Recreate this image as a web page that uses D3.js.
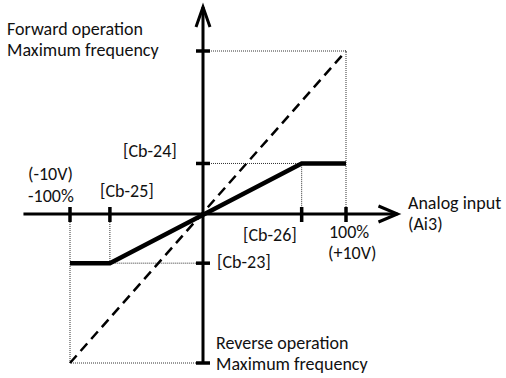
<!DOCTYPE html>
<html>
<head>
<meta charset="utf-8">
<script src="https://cdn.jsdelivr.net/npm/d3@7"></script>
<style>
  body { margin: 0; background: #fff; }
  text { font-family: Carlito, Calibri, Lato, sans-serif; font-size: 18px; fill: #111; }
</style>
</head>
<body>
<div id="chart"></div>
<script>
// analog input (%) vs output frequency (% of max)
var inputTicks = [-100, -70, 69, 100];          // -100%, [Cb-25], [Cb-26], 100%
var outputTicks = [100, 31, -33, -100];         // fwd max, [Cb-24], [Cb-23], rev max
var gainInput = [-100, -70, 69, 100];
var gainOutput = [-33, -33, 31, 31];
var diagInput = [-100, 100];
var diagOutput = [-100, 100];
var xAxisExtent = [-135, 136];
var yAxisExtent = [-100, 127];

var labelTexts = ["Forward operation", "Maximum frequency", "[Cb-24]", "(-10V)", "-100%",
    "[Cb-25]", "[Cb-26]", "100%", "(+10V)", "[Cb-23]", "Analog input", "(Ai3)",
    "Reverse operation", "Maximum frequency"];

var width = 506, height = 378;

var svg = d3.select("#chart").append("svg")
    .attr("width", width)
    .attr("height", height);

var x = d3.scaleLinear().domain([-100, 0, 100]).range([70, 203, 346]);
var y = d3.scaleLinear().domain([-100, 0, 100]).range([363, 214, 51]);

var line = d3.line()
    .x(function(d) { return x(d[0]); })
    .y(function(d) { return y(d[1]); });

// dotted guide lines
var guides = [
    [[0, outputTicks[0]], [inputTicks[3], outputTicks[0]], [inputTicks[3], 0]],
    [[0, outputTicks[1]], [inputTicks[2], outputTicks[1]], [inputTicks[2], 0]],
    [[inputTicks[1], 0], [inputTicks[1], outputTicks[2]], [0, outputTicks[2]]],
    [[inputTicks[0], 0], [inputTicks[0], outputTicks[3]], [0, outputTicks[3]]]
];
svg.selectAll(".guide")
    .data(guides)
    .enter().append("path")
    .attr("class", "guide")
    .attr("d", line)
    .attr("fill", "none")
    .attr("stroke", "#333")
    .attr("stroke-width", 1)
    .attr("stroke-dasharray", "1,1");

// axes
svg.append("line")
    .attr("x1", x(xAxisExtent[0])).attr("y1", y(0))
    .attr("x2", x(xAxisExtent[1])).attr("y2", y(0))
    .attr("stroke", "#000").attr("stroke-width", 3);
svg.append("line")
    .attr("x1", x(0)).attr("y1", y(yAxisExtent[0]))
    .attr("x2", x(0)).attr("y2", y(yAxisExtent[1]))
    .attr("stroke", "#000").attr("stroke-width", 3);

// arrow heads
var ax = x(xAxisExtent[1]), ay = y(yAxisExtent[1]);
svg.append("path")
    .attr("d", "M" + (ax - 19) + "," + (y(0) - 8) + "L" + ax + "," + y(0) + "L" + (ax - 19) + "," + (y(0) + 8))
    .attr("fill", "none").attr("stroke", "#000").attr("stroke-width", 3);
svg.append("path")
    .attr("d", "M" + (x(0) - 7) + "," + (ay + 20) + "L" + x(0) + "," + ay + "L" + (x(0) + 7) + "," + (ay + 20))
    .attr("fill", "none").attr("stroke", "#000").attr("stroke-width", 3);

// ticks
svg.selectAll(".xtick")
    .data(inputTicks)
    .enter().append("line")
    .attr("class", "xtick")
    .attr("x1", function(d) { return x(d); }).attr("x2", function(d) { return x(d); })
    .attr("y1", y(0) - 7).attr("y2", y(0) + 8)
    .attr("stroke", "#000").attr("stroke-width", 3.5);
svg.selectAll(".ytick")
    .data(outputTicks)
    .enter().append("line")
    .attr("class", "ytick")
    .attr("y1", function(d) { return y(d); }).attr("y2", function(d) { return y(d); })
    .attr("x1", x(0) - 7).attr("x2", x(0) + 7)
    .attr("stroke", "#000").attr("stroke-width", 3.5);

// 1:1 dashed reference
svg.append("path")
    .datum(d3.zip(diagInput, diagOutput))
    .attr("d", line)
    .attr("fill", "none")
    .attr("stroke", "#000")
    .attr("stroke-width", 2.5)
    .attr("stroke-dasharray", "10,6");

// gain curve
svg.append("path")
    .datum(d3.zip(gainInput, gainOutput))
    .attr("d", line)
    .attr("fill", "none")
    .attr("stroke", "#000")
    .attr("stroke-width", 4.5);

// label placement (pixels, baseline)
var labelPos = [
    [7, 35], [7, 56], [123, 157], [28, 180], [28, 202],
    [100, 197], [243, 241], [329, 238], [328, 259], [217, 268],
    [408, 209], [408, 230], [216, 349], [216, 370]
];
svg.selectAll(".label")
    .data(labelTexts)
    .enter().append("text")
    .attr("class", "label")
    .attr("x", function(d, i) { return labelPos[i][0]; })
    .attr("y", function(d, i) { return labelPos[i][1]; })
    .text(function(d) { return d; });
</script>
</body>
</html>
